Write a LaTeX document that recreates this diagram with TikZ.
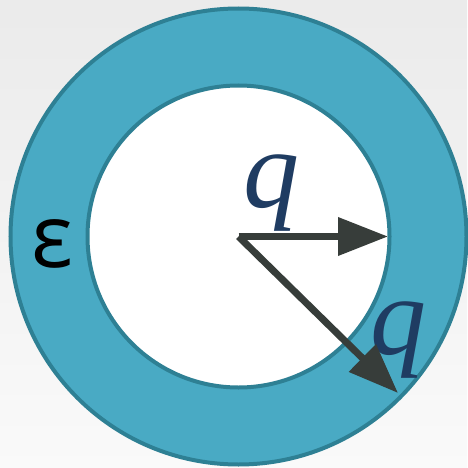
\documentclass[tikz,border=0pt]{standalone}
\usepackage{fontspec}
\usepackage{xcolor}
\usepackage{tikz}
\usetikzlibrary{arrows.meta, positioning}

\newfontfamily\qfont{Liberation Serif}
\newfontfamily\epsfont{Open Sans}
\definecolor{ringfill}{RGB}{73,170,196}
\definecolor{ringedge}{RGB}{46,128,148}
\definecolor{vecgray}{RGB}{55,61,58}
\definecolor{qnavy}{RGB}{31,60,98}

\begin{document}
\begin{tikzpicture}[
    x=1pt, y=-1pt,
    ring/.style={draw=ringedge, line width=4pt},
    vec/.style={-{Triangle[length=50pt, width=37pt]}, line width=7pt, draw=vecgray, fill=vecgray},
    qlabel/.style={font=\fontsize{112}{112}\selectfont\qfont\itshape, text=qnavy, inner sep=0pt, anchor=base},
    epslabel/.style={font=\fontsize{88}{88}\selectfont\epsfont, inner sep=0pt, anchor=base}
]
\useasboundingbox (0,0) rectangle (467,468);
\shade[top color=black!8, bottom color=black!2] (0,0) rectangle (467,468);

% dielectric shell and cavity
\coordinate (c) at (238.5,236.5);
\draw[ring, fill=ringfill] (c) circle[radius=228pt];
\draw[ring, fill=white]    (c) circle[radius=151pt];

\node[epslabel] (eps)  at (52,267)  {ε};
\node[qlabel]   (qin)  at (271,207) {q};
\node[qlabel]   (qout) at (398,354) {q};

\coordinate (tipin)  at (388,236.5);
\coordinate (tipout) at (398,393);

\draw[vec] (c) -- (tipin);
\draw[vec] (c) -- (tipout);

\end{tikzpicture}
\end{document}
